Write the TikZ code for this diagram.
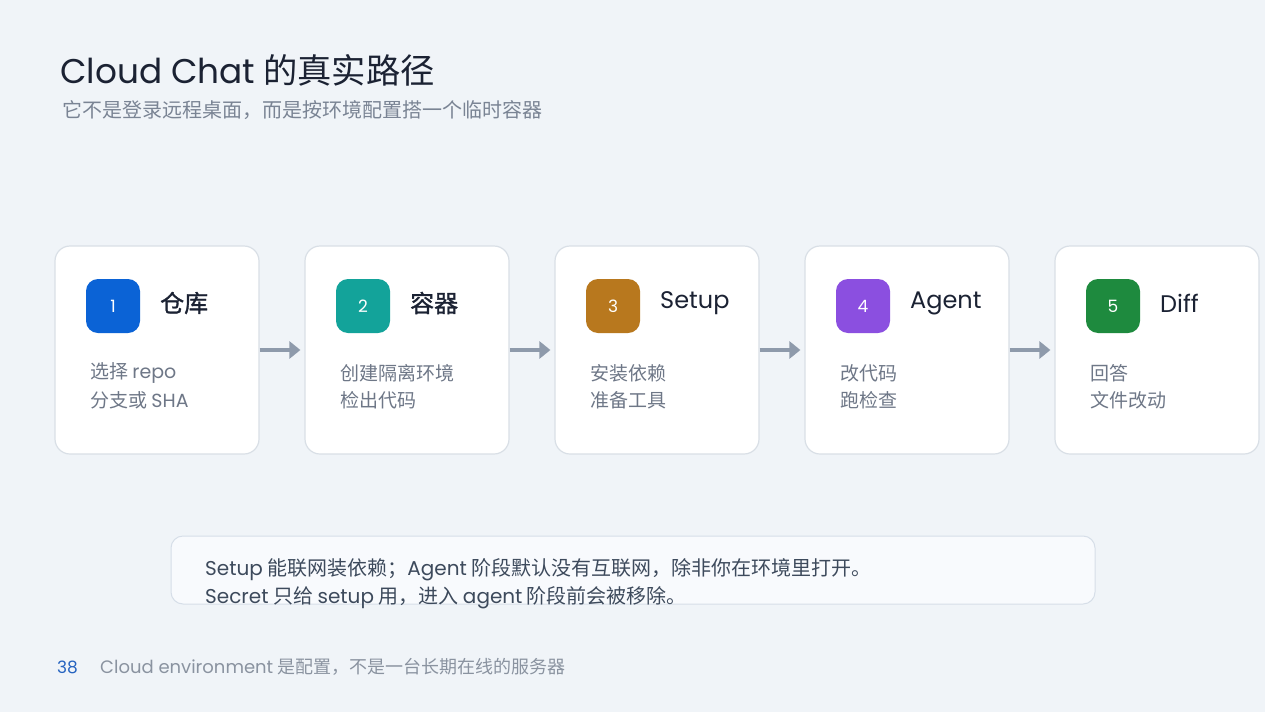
\documentclass[tikz,border=0pt]{standalone}
\usepackage{fontspec}
\setmainfont{Noto Sans CJK SC}
\newfontfamily\cjkmed{Noto Sans CJK SC}[FakeBold=1.2]
\newfontfamily\lat{Poppins}
\usetikzlibrary{arrows.meta}
\definecolor{bg}{HTML}{F0F4F8}
\definecolor{titlec}{HTML}{1B2233}
\definecolor{subc}{HTML}{7A8494}
\definecolor{descc}{HTML}{6E7787}
\definecolor{cardline}{HTML}{D9DFE6}
\definecolor{arrowc}{HTML}{8E9AAB}
\definecolor{notefill}{HTML}{F8FAFD}
\definecolor{noteline}{HTML}{D6DEE8}
\definecolor{notetext}{HTML}{3D4A5C}
\definecolor{footc}{HTML}{8A93A0}
\definecolor{pagec}{HTML}{2563C0}
\definecolor{b1}{HTML}{0B63D6}
\definecolor{b2}{HTML}{13A39A}
\definecolor{b3}{HTML}{B8781E}
\definecolor{b4}{HTML}{8B4FE0}
\definecolor{b5}{HTML}{1E8A3E}
\tikzset{
  card/.style={draw=cardline, line width=1.2pt, fill=white, rounded corners=15pt,
    minimum width=204pt, minimum height=208pt, inner sep=0pt},
  badge/.style={rounded corners=12pt, minimum size=54pt, inner sep=0pt, text=white,
    font=\lat\fontsize{17}{20}\selectfont},
  cardtitle/.style={anchor=west, inner sep=0pt, text=titlec, font=\fontsize{24}{28}\selectfont},
  desc/.style={anchor=west, inner sep=0pt, text=descc, font=\fontsize{19}{22}\selectfont},
  flow/.style={-{Triangle[length=11pt,width=17pt]}, line width=4.5pt, draw=arrowc, shorten >=4pt},
  notetxt/.style={anchor=base west, inner sep=0pt, text=notetext, font=\fontsize{20}{22}\selectfont},
}
\begin{document}
\begin{tikzpicture}[x=1pt,y=-1pt]
\fill[bg] (0,0) rectangle (1265,712);
\useasboundingbox (0,0) rectangle (1265,712);
% title
\node[anchor=base west, inner sep=0pt, text=titlec, font=\fontsize{34.3}{40}\selectfont] (title) at (60,83) {{\lat Cloud Chat} 的真实路径};
\node[anchor=base west, inner sep=0pt, text=subc, font=\fontsize{20}{22}\selectfont] (subtitle) at (62,117) {它不是登录远程桌面，而是按环境配置搭一个临时容器};
% cards
\foreach \i/\col/\ttl/\la/\lb in {
  1/b1/{\cjkmed 仓库}/{选择 {\lat repo}}/{分支或 {\lat SHA}},
  2/b2/{\cjkmed 容器}/{创建隔离环境}/{检出代码},
  3/b3/{{\lat Setup}}/{安装依赖}/{准备工具},
  4/b4/{{\lat Agent}}/{改代码}/{跑检查},
  5/b5/{{\lat Diff}}/{回答}/{文件改动}} {
  \pgfmathsetmacro{\xo}{55+250*(\i-1)}
  \node[card] (card\i) at (\xo+102,350) {};
  \node[badge, fill=\col] (badge\i) at (\xo+58,306) {\i};
  \node[cardtitle] (ttl\i) at (\xo+105,303) {\ttl};
  \node[desc] (da\i) at (\xo+35,373) {\la};
  \node[desc] (db\i) at (\xo+35,400) {\lb};
}
\foreach \i/\j in {1/2,2/3,3/4,4/5}
  \draw[flow] (card\i.east) -- (card\j.west);
% note
\node[draw=noteline, line width=1pt, fill=notefill, rounded corners=12pt, minimum width=924pt,
  minimum height=68pt, inner sep=0pt] (note) at (633,570) {};
\node[notetxt] (note1) at (205,575) {{\lat Setup} 能联网装依赖；{\lat Agent} 阶段默认没有互联网，除非你在环境里打开。};
\node[notetxt] (note2) at (205,603) {{\lat Secret} 只给 {\lat setup} 用，进入 {\lat agent} 阶段前会被移除。};
% footer
\node[anchor=base west, inner sep=0pt, text=pagec, font=\lat\fontsize{17}{20}\selectfont] (page) at (57,673) {38};
\node[anchor=base west, inner sep=0pt, text=footc, font=\fontsize{18}{20}\selectfont] (foot) at (100,673) {{\lat Cloud environment} 是配置，不是一台长期在线的服务器};
\end{tikzpicture}
\end{document}
